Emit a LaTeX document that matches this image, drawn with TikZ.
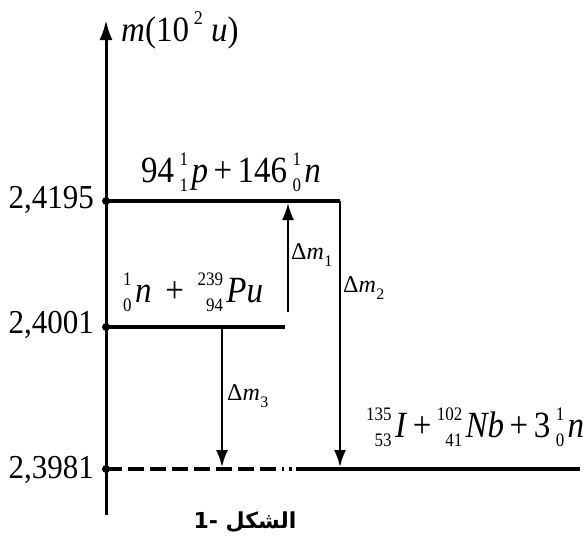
\documentclass[tikz,border=0pt]{standalone}
\usepackage{fontspec}
\setmainfont{Liberation Serif}
\newfontfamily\arabicfont[Script=Arabic]{DejaVu Sans}
\TeXXeTstate=1
\usetikzlibrary{arrows.meta}
\newcommand\scrfont{\fontsize{17}{17}\selectfont}
\newcommand\nuc[3]{\mbox{\setbox0=\hbox{\scrfont #1}\setbox2=\hbox{\scrfont #2}%
  \dimen0=\wd0 \ifdim\wd2>\dimen0 \dimen0=\wd2\fi
  \hbox to\dimen0{\hfill\llap{\raisebox{0.44em}{\copy0}}\llap{\raisebox{-0.26em}{\copy2}}}%
  \kern0.1em\textit{#3}}}
\newcommand\dm[1]{\mbox{Δ\textit{m}\kern0.02em\raisebox{-0.3em}{\fontsize{16}{16}\selectfont #1}}}
\begin{document}
\begin{tikzpicture}[x=1pt,y=-1pt,
  axisline/.style={line width=3pt},
  level/.style={line width=4pt},
  dmarrow/.style={line width=2pt,-{Latex[length=17pt,width=12pt]}},
  vallabel/.style={inner sep=0pt,anchor=base east,font=\fontsize{31}{36}\selectfont},
  reac/.style={inner sep=0pt,anchor=base west,font=\fontsize{33}{38}\selectfont},
  dmlabel/.style={inner sep=0pt,anchor=base west,font=\fontsize{24}{28}\selectfont},
  leveldot/.style={circle,fill=black,inner sep=0pt,minimum size=8pt}]
\useasboundingbox (0,0) rectangle (587,542);
% axis
\coordinate (axB) at (106,515);
\coordinate (axT) at (106,20);
\draw[axisline,-{Latex[length=20pt,width=13pt]}] (axB) -- (axT);
\node[inner sep=0pt,anchor=base west,font=\fontsize{33}{38}\selectfont] (ylab) at (121,41) {\scalebox{1}[1.08]{\textit{m}(10\kern0.15em\raisebox{0.45em}{\fontsize{18}{18}\selectfont 2}\kern0.25em\textit{u})}};
% levels
\coordinate (L1a) at (106,201);
\coordinate (L1b) at (340,201);
\coordinate (L2a) at (106,327);
\coordinate (L2b) at (285,327);
\coordinate (L3a) at (106,469);
\coordinate (L3d) at (284,469);
\coordinate (L3p) at (289,469);
\coordinate (L3q) at (292,469);
\coordinate (L3s) at (296,469);
\coordinate (L3b) at (580,469);
\draw[level] (L1a) -- (L1b);
\draw[level] (L2a) -- (L2b);
\draw[level,dash pattern=on 16pt off 6pt] (L3a) -- (L3d);
\draw[level] (L3p) -- (L3q);
\draw[level] (L3s) -- (L3b);
\node[leveldot] (d1) at (L1a) {};
\node[leveldot] (d2) at (L2a) {};
\node[leveldot] (d3) at (L3a) {};
% value labels
\node[vallabel] (v1) at (94,208) {\scalebox{1}[1.08]{2,4195}};
\node[vallabel] (v2) at (94,333) {\scalebox{1}[1.08]{2,4001}};
\node[vallabel] (v3) at (94,478) {\scalebox{1}[1.08]{2,3981}};
% arrows
\coordinate (a1s) at (288,312);
\coordinate (a1e) at (288,203);
\coordinate (a2s) at (340,201);
\coordinate (a2e) at (340,467);
\coordinate (a3s) at (222,327);
\coordinate (a3e) at (222,467);
\draw[dmarrow] (a1s) -- (a1e);
\draw[dmarrow] (a2s) -- (a2e);
\draw[dmarrow] (a3s) -- (a3e);
\node[dmlabel] (m1) at (291,259) {\dm{1}};
\node[dmlabel] (m2) at (343,292) {\dm{2}};
\node[dmlabel] (m3) at (227,400) {\dm{3}};
% reactions
\node[reac] (r1) at (141,182) {\scalebox{1}[1.12]{94\,\nuc{1}{1}{p}\,+\,146\,\nuc{1}{0}{n}}};
\node[reac] (r2) at (123,302) {\scalebox{1}[1.12]{\nuc{1}{0}{n}\ \,+\ \,\nuc{239}{94}{Pu}}};
\node[reac] (r3) at (366,437) {\scalebox{1}[1.12]{\nuc{135}{53}{I}\,+\,\nuc{102}{41}{Nb}\,+\,3\,\nuc{1}{0}{n}}};
% caption
\node[inner sep=0pt,font=\fontsize{22}{26}\selectfont\bfseries] (cap) at (245,522) {\arabicfont\beginR الشكل -1\endR};
\end{tikzpicture}
\end{document}
